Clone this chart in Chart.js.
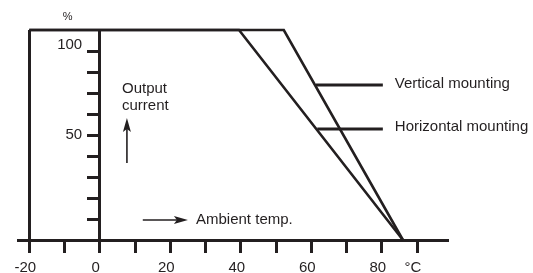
<!DOCTYPE html>
<html>
<head>
<meta charset="utf-8">
<script src="https://cdn.jsdelivr.net/npm/chart.js@4.4.1/dist/chart.umd.min.js"></script>
<style>
  html, body { margin: 0; padding: 0; background: #fff; }
</style>
</head>
<body>
<canvas id="derating" width="533" height="273"></canvas>
<script>
const INK = '#231f20';
const FONT = '"Liberation Sans", Arial, Helvetica, sans-serif';

// derating curves: ambient temp (°C) -> output current (%)
const tempVertical = [-20, 52.2, 86];
const currentVertical = [100, 100, 0];
const tempHorizontal = [-20, 39.5, 86];
const currentHorizontal = [100, 100, 0];

// leader lines from each curve out to its label
const leaderVerticalTemp = [61.3, 80.3];
const leaderVerticalCurrent = [73.8, 73.8];
const leaderHorizontalTemp = [61.7, 80.3];
const leaderHorizontalCurrent = [52.9, 52.9];

// axis ticks
const xTickValues = [-20, -10, 0, 10, 20, 30, 40, 50, 60, 70, 80, 90];
const xTickLabels = ['-20', '', '0', '', '20', '', '40', '', '60', '', '80', '°C'];
const yTickValues = [10, 20, 30, 40, 50, 60, 70, 80, 90];
const yLabelValues = [50, 93];
const yLabelTexts = ['50', '100'];

function toPoints(xs, ys) {
    return xs.map((x, i) => ({ x: x, y: ys[i] }));
}

function lineSet(label, xs, ys, width) {
    return {
        label: label,
        data: toPoints(xs, ys),
        borderColor: INK,
        borderWidth: width,
        pointRadius: 0,
        fill: false,
        tension: 0,
        clip: false
    };
}

// texts and arrows drawn on top, placed through the scales
const annotations = {
    id: 'annotations',
    afterDatasetsDraw(chart) {
        const c = chart.ctx;
        const sx = chart.scales.x, sy = chart.scales.y;
        const px = v => sx.getPixelForValue(v);
        const py = v => sy.getPixelForValue(v);

        c.save();
        c.fillStyle = INK;
        c.strokeStyle = INK;
        c.textBaseline = 'alphabetic';

        c.font = '15px ' + FONT;
        c.textAlign = 'left';
        c.fillText('Output', px(6.3), py(70));
        c.fillText('current', px(6.3), py(61.9));
        c.fillText('Ambient temp.', px(27.3), py(7.6));
        c.fillText('Vertical mounting', px(83.7), py(72.4));
        c.fillText('Horizontal mounting', px(83.7), py(51.9));

        c.font = '11px ' + FONT;
        c.textAlign = 'center';
        c.fillText('%', px(-9.1), py(104.8));

        // up arrow (output current)
        const ax = px(7.7), aBot = py(36.7), aTip = py(58.1);
        c.lineWidth = 1.6;
        c.beginPath();
        c.moveTo(ax, aBot);
        c.lineTo(ax, aTip + 8);
        c.stroke();
        c.beginPath();
        c.moveTo(ax, aTip);
        c.lineTo(ax - 4, aTip + 14);
        c.lineTo(ax, aTip + 11);
        c.lineTo(ax + 4, aTip + 14);
        c.closePath();
        c.fill();

        // right arrow (ambient temp)
        const ry = py(9.5), rStart = px(12.2), rTip = px(25);
        c.beginPath();
        c.moveTo(rStart, ry);
        c.lineTo(rTip - 8, ry);
        c.stroke();
        c.beginPath();
        c.moveTo(rTip, ry);
        c.lineTo(rTip - 14, ry - 4);
        c.lineTo(rTip - 11, ry);
        c.lineTo(rTip - 14, ry + 4);
        c.closePath();
        c.fill();

        c.restore();
    }
};

const ctx = document.getElementById('derating').getContext('2d');
new Chart(ctx, {
    type: 'line',
    data: {
        datasets: [
            lineSet('Vertical mounting', tempVertical, currentVertical, 2.6),
            lineSet('Horizontal mounting', tempHorizontal, currentHorizontal, 2.6),
            lineSet('leader vertical', leaderVerticalTemp, leaderVerticalCurrent, 3),
            lineSet('leader horizontal', leaderHorizontalTemp, leaderHorizontalCurrent, 3)
        ]
    },
    options: {
        responsive: false,
        animation: false,
        layout: { padding: { left: 18, right: 86, top: 30, bottom: 33 } },
        plugins: {
            legend: { display: false },
            tooltip: { enabled: false }
        },
        scales: {
            x: {
                type: 'linear',
                min: -23.2,
                max: 98.5,
                position: { y: 0 },
                afterBuildTicks: s => { s.ticks = xTickValues.map(v => ({ value: v })); },
                grid: {
                    drawOnChartArea: true,
                    color: c => (c.tick && c.tick.value === -20) ? INK : 'rgba(0,0,0,0)',
                    lineWidth: 3,
                    tickColor: INK,
                    tickWidth: 3,
                    tickLength: 11
                },
                border: { display: true, color: INK, width: 3 },
                ticks: {
                    autoSkip: false,
                    maxRotation: 0,
                    padding: 8,
                    labelOffset: -4,
                    color: INK,
                    font: { family: FONT, size: 15 },
                    callback: (v, i) => xTickLabels[i]
                }
            },
            y: {
                type: 'linear',
                min: 0,
                max: 100,
                position: { x: 0 },
                afterBuildTicks: s => { s.ticks = yTickValues.map(v => ({ value: v })); },
                grid: {
                    drawOnChartArea: false,
                    tickColor: INK,
                    tickWidth: 3,
                    tickLength: 11
                },
                border: { display: true, color: INK, width: 3 },
                ticks: { display: false }
            },
            yLabels: {
                type: 'linear',
                axis: 'y',
                min: 0,
                max: 100,
                position: { x: -5 },
                afterBuildTicks: s => { s.ticks = yLabelValues.map(v => ({ value: v })); },
                grid: { display: false },
                border: { display: false },
                ticks: {
                    color: INK,
                    font: { family: FONT, size: 15 },
                    callback: (v, i) => yLabelTexts[i]
                }
            }
        }
    },
    plugins: [annotations]
});
</script>
</body>
</html>
